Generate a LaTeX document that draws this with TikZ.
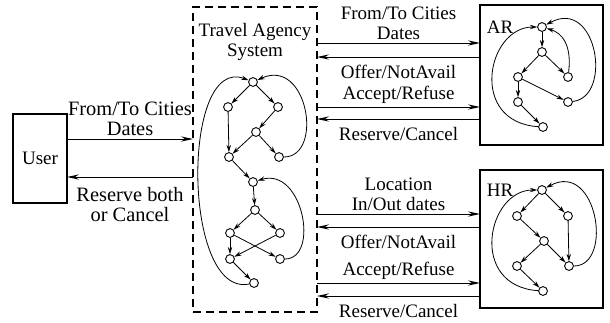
\documentclass[tikz,border=0pt]{standalone}
\usepackage{fontspec}
\setmainfont{Liberation Serif}
\usetikzlibrary{arrows.meta}

\begin{document}
\begin{tikzpicture}[x=0.5pt,y=-0.5pt,font=\fontsize{9.5}{10}\selectfont,
  box/.style={draw,line width=0.6pt,inner sep=0pt,outer sep=0pt},
  sysbox/.style={box,dash pattern=on 4pt off 2.5pt},
  msg/.style={-{Stealth[length=6pt,width=2.6pt,inset=2pt]},line width=0.5pt},
  st/.style={draw,circle,line width=0.45pt,minimum size=4.4pt,inner sep=0pt},
  edge/.style={-{Stealth[length=3.6pt,width=2.2pt]},line width=0.4pt},
  lblup/.style={above,align=center,inner sep=1.5pt},
  lbldn/.style={below,align=center,inner sep=4pt},
  userlbl/.style={font=\fontsize{10.2}{10}\selectfont}]

\useasboundingbox (0,0) rectangle (610,322);

% the parties
\node[box,minimum width=27pt,minimum height=44.5pt] (user) at (40,158.5) {User};
\node[sysbox,minimum width=62pt,minimum height=152.5pt] (tas) at (255,159.5) {};
\node[align=center] (title) at (255,42) {Travel Agency\\System};
\node[box,minimum width=61.5pt,minimum height=70pt] (ar) at (541.5,75) {};
\node (arname) at (500,27) {AR};
\node[box,minimum width=61.5pt,minimum height=69pt] (hr) at (541.5,239) {};
\node (hrname) at (500,190) {HR};

% messages
\draw[msg] (user.east |- 0,139) -- node[lblup,userlbl] {From/To Cities\\Dates} (tas.west |- 0,139);
\draw[msg] (tas.west |- 0,177) -- node[lbldn,userlbl,inner sep=5pt] {Reserve both\\or Cancel} (user.east |- 0,177);

\draw[msg] (tas.east |- 0,43) -- node[lblup] {From/To Cities\\Dates} (ar.west |- 0,43);
\draw[msg] (ar.west |- 0,57) -- node[lbldn] {Offer/NotAvail} (tas.east |- 0,57);
\draw[msg] (tas.east |- 0,107) -- node[lblup] {Accept/Refuse} (ar.west |- 0,107);
\draw[msg] (ar.west |- 0,119) -- node[lbldn] {Reserve/Cancel} (tas.east |- 0,119);

\draw[msg] (tas.east |- 0,214) -- node[lblup] {Location\\In/Out dates} (hr.west |- 0,214);
\draw[msg] (hr.west |- 0,227) -- node[lbldn] {Offer/NotAvail} (tas.east |- 0,227);
\draw[msg] (tas.east |- 0,283) -- node[lblup] {Accept/Refuse} (hr.west |- 0,283);
\draw[msg] (hr.west |- 0,296) -- node[lbldn] {Reserve/Cancel} (tas.east |- 0,296);

% travel agency states
\foreach \n/\p in {t1/{253,82},t2/{228,107},t3/{278,107},t4/{256,132},t5/{229,157},
  t6/{279,157},t7/{253,182},t8/{255,210},t9/{230,233},t10/{280,233},
  t11/{230,259},t12/{280,259},t13/{254,283}}
  \node[st] (\n) at (\p) {};

\foreach \a/\b in {t1/t2,t1/t3,t2/t5,t3/t4,t4/t5,t4/t6,t5/t7,t7/t8,t8/t9,t8/t10,
  t9/t11,t9/t12,t10/t11,t11/t13}
  \draw[edge] (\a) -- (\b);

\draw[edge] (t6) .. controls +(45,0) and +(55,-25) .. (t1);
\draw[edge] (t12) .. controls +(40,0) and +(50,-15) .. (t7);
\draw[edge] (t13) .. controls +(-72,15) and +(-72,-28) .. (t1);

% AR states
\foreach \n/\p in {a1/{542,27},a2/{542,52},a3/{568,77},a4/{518,77},a5/{518,102},
  a6/{568,102},a7/{543,127}}
  \node[st] (\n) at (\p) {};

\foreach \a/\b in {a1/a2,a2/a4,a2/a3,a4/a5,a4/a6,a5/a7}
  \draw[edge] (\a) -- (\b);

\draw[edge] (a3) .. controls +(4,-32) and +(20,6) .. (a1);
\draw[edge] (a6) .. controls +(45,-5) and +(55,-30) .. (a1);
\draw[edge] (a7) .. controls +(-75,-5) and +(-55,0) .. (a1);

% HR states
\foreach \n/\p in {h1/{542,190},h2/{517,216},h3/{568,216},h4/{544,241},h5/{517,266},
  h6/{569,266},h7/{543,291}}
  \node[st] (\n) at (\p) {};

\foreach \a/\b in {h1/h2,h1/h3,h2/h4,h3/h6,h4/h5,h4/h6,h5/h7}
  \draw[edge] (\a) -- (\b);

\draw[edge] (h6) .. controls +(45,0) and +(55,-30) .. (h1);
\draw[edge] (h7) .. controls +(-75,-5) and +(-55,0) .. (h1);

\end{tikzpicture}
\end{document}
